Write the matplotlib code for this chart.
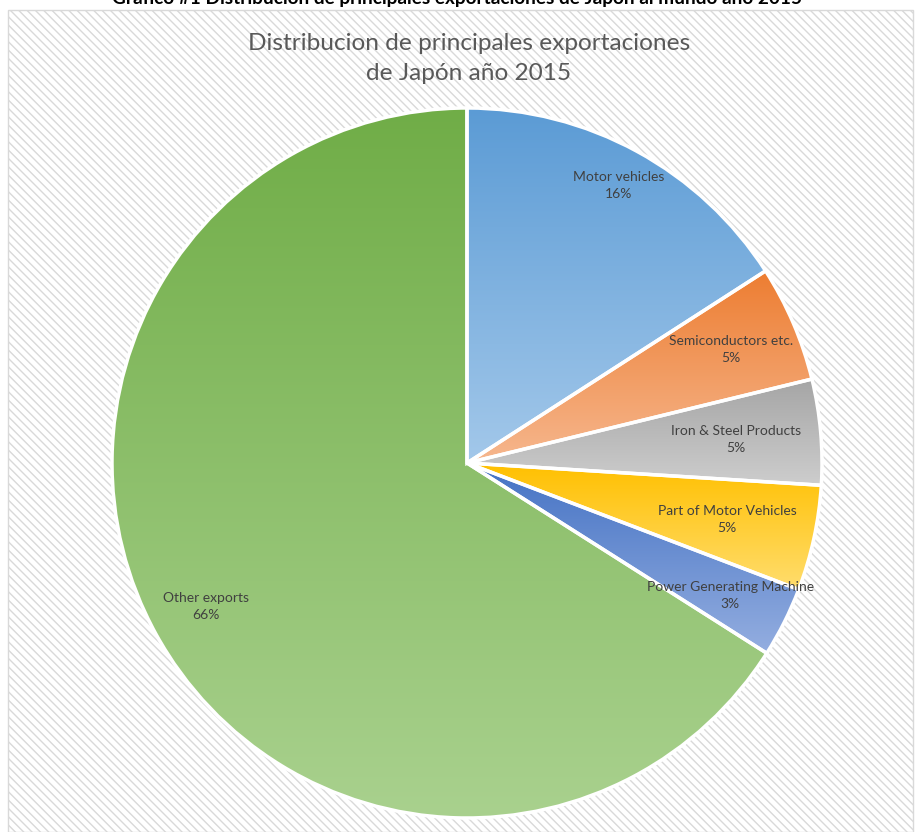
import numpy as np
import matplotlib
matplotlib.use('Agg')
import matplotlib.pyplot as plt
from matplotlib.patches import Rectangle
from matplotlib.colors import LinearSegmentedColormap

# data (share of exports, %)
labels = ['Motor vehicles', 'Semiconductors etc.', 'Iron & Steel Products',
          'Part of Motor Vehicles', 'Power Generating Machine', 'Other exports']
values = [15.9, 5.3, 4.8, 4.8, 3.2, 66.0]
pct_text = ['16%', '5%', '5%', '5%', '3%', '66%']

# gradient colours, top -> bottom of each slice
top_colors = ['#5B9BD5', '#ED7D31', '#A5A5A5', '#FFC000', '#4472C4', '#70AD47']
bottom_colors = ['#A3C8EA', '#F6B78E', '#CDCDCD', '#FFDD6E', '#94AEE0', '#A9D18E']
label_r = [0.89, 0.81, 0.76, 0.75, 0.83, 0.84]

plt.rcParams['hatch.linewidth'] = 1.0

fig = plt.figure(figsize=(9.15, 8.32), dpi=100)
fig.patch.set_facecolor('white')

# hatched chart area background
bg = Rectangle((8 / 915, 0), 905 / 915, 822 / 832, transform=fig.transFigure,
               facecolor='white', edgecolor='#D9D9D9', hatch='\\\\\\\\', linewidth=1.0,
               zorder=0)
fig.add_artist(bg)

fig.text(0.5, 1.002, 'Gráfico #1 Distribución de principales exportaciones de Japón al mundo año 2015',
         ha='center', va='center', fontsize=13.7, fontweight='bold', family='Lato', color='black')
fig.text(469 / 915, 1 - 43 / 832, 'Distribucion de principales exportaciones',
         ha='center', va='center', fontsize=17.6, family='Lato', color='#595959')
fig.text(469 / 915, 1 - 74 / 832, 'de Japón año 2015',
         ha='center', va='center', fontsize=17.6, family='Lato', color='#595959')

ax = fig.add_axes([112 / 915, 14 / 832, 710 / 915, 710 / 832])
ax.set_facecolor('none')
ax.patch.set_alpha(0)

wedges, _ = ax.pie(values, startangle=90, counterclock=False, radius=1,
                   wedgeprops=dict(facecolor='none', edgecolor='white', linewidth=2.5))

grad = np.linspace(0, 1, 256).reshape(-1, 1)
for i, w in enumerate(wedges):
    w.set_zorder(3)
    ext = w.get_path().get_extents()
    cmap = LinearSegmentedColormap.from_list('g%d' % i, [top_colors[i], bottom_colors[i]])
    im = ax.imshow(grad, cmap=cmap, aspect='auto', origin='upper',
                   extent=[ext.x0, ext.x1, ext.y0, ext.y1], zorder=2)
    im.set_clip_path(w)
    mid = np.deg2rad((w.theta1 + w.theta2) / 2)
    r = label_r[i]
    ax.text(r * np.cos(mid), r * np.sin(mid), labels[i] + '\n' + pct_text[i],
            ha='center', va='center', fontsize=10, family='Lato', color='#404040',
            linespacing=1.5, zorder=5)

ax.set_xlim(-1.0, 1.0)
ax.set_ylim(-1.0, 1.0)
ax.set_aspect('equal')
ax.axis('off')

fig.savefig('out.png', dpi=100)
